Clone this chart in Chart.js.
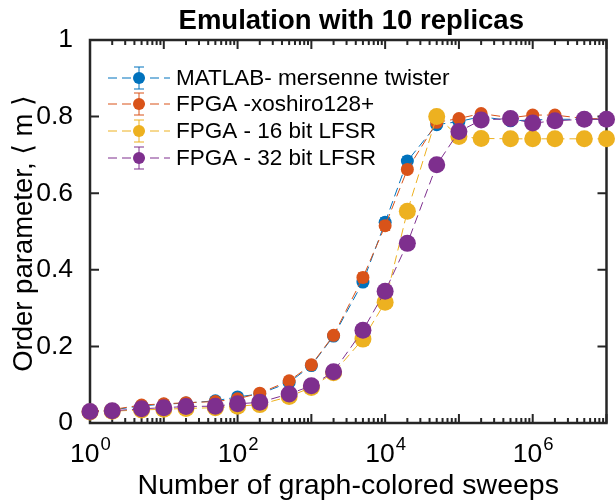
<!DOCTYPE html>
<html>
<head>
<meta charset="utf-8">
<script src="https://cdn.jsdelivr.net/npm/chart.js@4.4.1/dist/chart.umd.min.js"></script>
<style>
  html, body { margin: 0; padding: 0; background: #fff; }
  #wrap { width: 615px; height: 501px; position: relative; }
</style>
</head>
<body>
<div id="wrap"><canvas id="chart" width="615" height="501"></canvas></div>
<script>
// sweep counts (x) shared by every run
const sweeps = [1, 2, 5, 10, 20, 50, 100, 200, 500, 1e3, 2e3, 5e3, 1e4, 2e4, 5e4, 1e5, 2e5, 5e5, 1e6, 2e6, 5e6, 1e7];

const seriesNames = ['MATLAB- mersenne twister', 'FPGA -xoshiro128+', 'FPGA - 16 bit LFSR', 'FPGA - 32 bit LFSR'];
const seriesColors = ['#0072BD', '#D95319', '#EDB120', '#7E2F8E'];

const mersenne = [0.030, 0.034, 0.045, 0.049, 0.052, 0.058, 0.068, 0.076, 0.106, 0.150, 0.227, 0.368, 0.524, 0.684, 0.779, 0.787, 0.800, 0.789, 0.791, 0.793, 0.793, 0.793];
const xoshiro = [0.031, 0.035, 0.047, 0.050, 0.053, 0.056, 0.063, 0.078, 0.110, 0.152, 0.229, 0.380, 0.515, 0.662, 0.785, 0.795, 0.808, 0.797, 0.804, 0.804, 0.795, 0.794];
const lfsr16 = [0.029, 0.031, 0.034, 0.036, 0.038, 0.040, 0.044, 0.048, 0.069, 0.093, 0.131, 0.219, 0.315, 0.553, 0.800, 0.748, 0.743, 0.742, 0.742, 0.742, 0.742, 0.742];
const lfsr32 = [0.030, 0.032, 0.037, 0.040, 0.043, 0.044, 0.050, 0.054, 0.076, 0.097, 0.134, 0.242, 0.344, 0.469, 0.674, 0.761, 0.791, 0.795, 0.783, 0.789, 0.793, 0.793];

// standard error over the 10 replicas
const mersenneErr = [0.002, 0.002, 0.003, 0.003, 0.003, 0.004, 0.005, 0.005, 0.006, 0.007, 0.008, 0.010, 0.012, 0.012, 0.008, 0.006, 0.005, 0.005, 0.005, 0.005, 0.005, 0.005];
const xoshiroErr = [0.002, 0.002, 0.003, 0.003, 0.003, 0.004, 0.005, 0.005, 0.006, 0.007, 0.008, 0.012, 0.012, 0.010, 0.008, 0.006, 0.005, 0.005, 0.005, 0.005, 0.005, 0.005];
const lfsr16Err = [0.002, 0.002, 0.003, 0.003, 0.003, 0.003, 0.004, 0.004, 0.005, 0.006, 0.006, 0.008, 0.008, 0.008, 0.006, 0.005, 0.004, 0.004, 0.004, 0.004, 0.004, 0.004];
const lfsr32Err = [0.002, 0.002, 0.003, 0.003, 0.003, 0.003, 0.004, 0.004, 0.005, 0.006, 0.006, 0.008, 0.008, 0.008, 0.006, 0.005, 0.004, 0.004, 0.004, 0.004, 0.004, 0.004];

const yTicks = [0, 0.2, 0.4, 0.6, 0.8, 1];
const xExponents = [0, 2, 4, 6];

const FONT = "'Liberation Sans', Arial, Helvetica, sans-serif";
const AXIS_COLOR = '#262626';
const TICK_SIZE = 26.5;
const TITLE_SIZE = 27.5;
const LABEL_SIZE = 28.5;
const LEGEND_SIZE = 22.5;

const values = [mersenne, xoshiro, lfsr16, lfsr32];
const errors = [mersenneErr, xoshiroErr, lfsr16Err, lfsr32Err];
const radii = [6.5, 6.5, 8.5, 8.5];

const datasets = values.map((vals, i) => ({
    label: seriesNames[i],
    data: sweeps.map((x, j) => ({ x, y: vals[j] })),
    errors: errors[i],
    borderColor: seriesColors[i],
    backgroundColor: seriesColors[i],
    pointBackgroundColor: seriesColors[i],
    pointBorderColor: seriesColors[i],
    pointBorderWidth: 0,
    pointRadius: radii[i],
    borderWidth: 1,
    borderDash: [9, 5],
    tension: 0,
    clip: false,
    order: values.length - i
}));

// box, inward ticks, log minor ticks
const axesBox = {
    id: 'axesBox',
    beforeDatasetsDraw(chart) {
        const { ctx, chartArea: a, scales } = chart;
        const xs = scales.x, ys = scales.y;
        ctx.save();
        ctx.strokeStyle = AXIS_COLOR;
        ctx.lineWidth = 2;
        const major = 9, minor = 5;
        ctx.beginPath();
        for (let e = 0; e <= 7; e++) {
            for (let m = 1; m <= 9; m++) {
                const v = m * Math.pow(10, e);
                if (v > 1e7) break;
                const px = xs.getPixelForValue(v);
                const len = m === 1 ? major : minor;
                ctx.moveTo(px, a.bottom); ctx.lineTo(px, a.bottom - len);
                ctx.moveTo(px, a.top); ctx.lineTo(px, a.top + len);
            }
        }
        yTicks.forEach(v => {
            const py = ys.getPixelForValue(v);
            ctx.moveTo(a.left, py); ctx.lineTo(a.left + major, py);
            ctx.moveTo(a.right, py); ctx.lineTo(a.right - major, py);
        });
        ctx.stroke();
        ctx.lineWidth = 2.5;
        ctx.strokeRect(a.left, a.top, a.right - a.left, a.bottom - a.top);
        ctx.restore();
    }
};

function drawErrorBar(ctx, x, yTop, yBot, cap, color) {
    ctx.strokeStyle = color;
    ctx.lineWidth = 1;
    ctx.setLineDash([]);
    ctx.beginPath();
    ctx.moveTo(x, yTop); ctx.lineTo(x, yBot);
    ctx.moveTo(x - cap, yTop); ctx.lineTo(x + cap, yTop);
    ctx.moveTo(x - cap, yBot); ctx.lineTo(x + cap, yBot);
    ctx.stroke();
}

const errorBars = {
    id: 'errorBars',
    beforeDatasetDraw(chart, args) {
        const ds = chart.data.datasets[args.index];
        const { ctx, scales } = chart;
        ctx.save();
        ds.data.forEach((p, j) => {
            const e = ds.errors[j];
            const px = scales.x.getPixelForValue(p.x);
            drawErrorBar(ctx, px, scales.y.getPixelForValue(p.y + e), scales.y.getPixelForValue(p.y - e), 5, ds.borderColor);
        });
        ctx.restore();
    }
};

const decorations = {
    id: 'decorations',
    afterDraw(chart) {
        const { ctx, chartArea: a, scales } = chart;
        const cx = (a.left + a.right) / 2;
        ctx.save();
        ctx.fillStyle = '#000';

        // title
        ctx.font = 'bold ' + TITLE_SIZE + 'px ' + FONT;
        ctx.textAlign = 'center';
        ctx.textBaseline = 'alphabetic';
        ctx.fillText('Emulation with 10 replicas', cx + 3, 29);

        // x tick labels 10^n
        const expSize = TICK_SIZE * 0.7;
        xExponents.forEach(n => {
            const px = scales.x.getPixelForValue(Math.pow(10, n));
            ctx.font = TICK_SIZE + 'px ' + FONT;
            const wBase = ctx.measureText('10').width;
            ctx.font = expSize + 'px ' + FONT;
            const wExp = ctx.measureText(String(n)).width;
            const left = px - (wBase + wExp) / 2;
            ctx.textAlign = 'left';
            ctx.font = TICK_SIZE + 'px ' + FONT;
            ctx.fillText('10', left, 462);
            ctx.font = expSize + 'px ' + FONT;
            ctx.fillText(String(n), left + wBase + 1, 450);
        });

        // axis titles
        ctx.font = LABEL_SIZE + 'px ' + FONT;
        ctx.textAlign = 'center';
        ctx.fillText('Number of graph-colored sweeps', cx, 494);
        ctx.save();
        ctx.translate(32, (a.top + a.bottom) / 2 + 2);
        ctx.rotate(-Math.PI / 2);
        ctx.font = '27.5px ' + "'Liberation Sans', 'DejaVu Sans', sans-serif";
        ctx.fillText('Order parameter, \u27E8 m \u27E9', 0, 0);
        ctx.restore();

        // legend
        const rows = [78, 104, 131, 158];
        seriesNames.forEach((name, i) => {
            const y = rows[i], color = seriesColors[i];
            ctx.strokeStyle = color;
            ctx.lineWidth = 1;
            ctx.setLineDash([9, 5]);
            ctx.beginPath();
            ctx.moveTo(108, y); ctx.lineTo(170, y);
            ctx.stroke();
            drawErrorBar(ctx, 139, y - 11, y + 11, 5, color);
            ctx.fillStyle = color;
            ctx.beginPath();
            ctx.arc(139, y, 6, 0, Math.PI * 2);
            ctx.fill();
            ctx.fillStyle = '#000';
            ctx.font = LEGEND_SIZE + 'px ' + FONT;
            ctx.textAlign = 'left';
            ctx.textBaseline = 'middle';
            ctx.fillText(name, 176, y + 1);
        });
        ctx.restore();
    }
};

new Chart(document.getElementById('chart'), {
    type: 'line',
    data: { datasets },
    options: {
        responsive: false,
        animation: false,
        layout: { padding: { left: 0, right: 7, top: 40, bottom: 0 } },
        plugins: { legend: { display: false }, tooltip: { enabled: false }, title: { display: false } },
        scales: {
            x: {
                type: 'logarithmic',
                min: 1,
                max: 1e7,
                grid: { display: false },
                border: { display: false },
                ticks: { display: false },
                afterFit(scale) { scale.height = 78; }
            },
            y: {
                min: 0,
                max: 1,
                grid: { display: false },
                border: { display: false },
                ticks: {
                    stepSize: 0.2,
                    padding: 9,
                    color: '#000',
                    font: { family: FONT, size: TICK_SIZE },
                    callback: v => (v === 0 || v === 1) ? String(v) : v.toFixed(1)
                },
                afterFit(scale) { scale.width = 90; }
            }
        }
    },
    plugins: [axesBox, errorBars, decorations]
});
</script>
</body>
</html>
